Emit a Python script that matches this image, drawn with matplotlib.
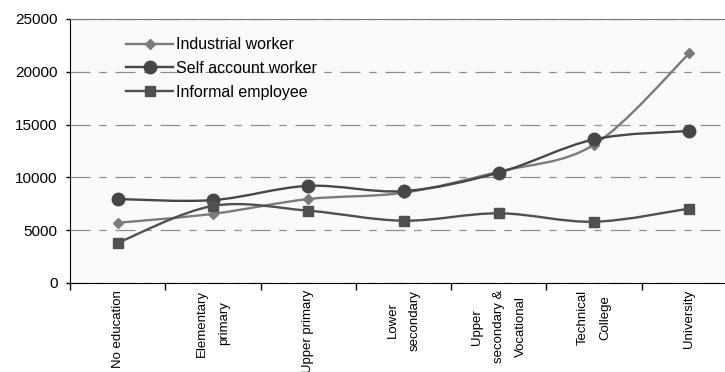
import matplotlib
matplotlib.use("Agg")
import matplotlib.pyplot as plt
from matplotlib.path import Path
from matplotlib.patches import PathPatch

plt.rcParams['font.family'] = ['Liberation Sans', 'DejaVu Sans']

# education levels and average values
categories = ["No education", "Elementary\nprimary", "Upper primary", "Lower\nsecondary",
              "Upper\nsecondary &\nVocational", "Technical\nCollege", "University"]
industrial = [5700, 6550, 7950, 8550, 10550, 13100, 21750]
self_account = [7950, 7850, 9200, 8700, 10450, 13600, 14400]
informal = [3800, 7300, 6850, 5900, 6600, 5800, 7050]

series = [
    ("Industrial worker", industrial, "#7b7b7b", "D", 5.5),
    ("Self account worker", self_account, "#474747", "o", 9),
    ("Informal employee", informal, "#505050", "s", 6.5),
]


def smooth_path(xs, ys):
    # Bezier segments like a spreadsheet "smoothed line"
    verts = [(xs[0], ys[0])]
    codes = [Path.MOVETO]
    n = len(xs)
    for i in range(n - 1):
        x0, y0 = (xs[i - 1], ys[i - 1]) if i > 0 else (xs[i], ys[i])
        x1, y1 = xs[i], ys[i]
        x2, y2 = xs[i + 1], ys[i + 1]
        x3, y3 = (xs[i + 2], ys[i + 2]) if i + 2 < n else (x2, y2)
        c1 = (x1 + (x2 - x0) / 6, y1 + (y2 - y0) / 6)
        c2 = (x2 - (x3 - x1) / 6, y2 - (y3 - y1) / 6)
        verts += [c1, c2, (x2, y2)]
        codes += [Path.CURVE4] * 3
    return Path(verts, codes)


fig = plt.figure(figsize=(7.25, 3.72), dpi=100)
ax = fig.add_axes([70 / 725, 1 - 283 / 372, 667 / 725, 264 / 372])
ax.set_facecolor("#fafafa")

x = list(range(len(categories)))
for name, vals, col, mk, ms in series:
    ax.add_patch(PathPatch(smooth_path(x, vals), fill=False, edgecolor=col, lw=1.7, zorder=3))
    ax.plot(x, vals, ls="none", marker=mk, ms=ms, color=col, zorder=4)
    ax.plot([], [], color=col, lw=1.7, marker=mk, ms=ms, label=name)

ax.set_xlim(-0.5, len(categories) - 0.5)
ax.set_ylim(0, 25000)
ax.set_yticks(range(0, 25001, 5000))
ax.yaxis.grid(True, color="#8c8c8c", lw=0.9, dashes=(16, 7, 6, 7))
ax.set_axisbelow(True)

ax.set_xticks([i - 0.5 for i in range(len(categories) + 1)])
ax.set_xticklabels([])
ax.set_xticks(x, minor=True)
ax.set_xticklabels(categories, minor=True, rotation=90, ha="center", va="top",
                   multialignment="center", fontsize=9.5, linespacing=2.1)
ax.tick_params(axis="x", which="major", length=5, width=1, direction="out")
ax.tick_params(axis="x", which="minor", length=0, pad=5)
ax.tick_params(axis="y", length=3, width=1, labelsize=11, pad=6)

ax.spines["left"].set_color("black")
ax.spines["bottom"].set_color("black")
ax.spines["top"].set_color("#777777")
ax.spines["right"].set_visible(False)

ax.legend(loc="upper left", bbox_to_anchor=(0.075, 0.955), frameon=False, fontsize=11.5,
          handlelength=2.9, handletextpad=0.2, labelspacing=0.55, borderaxespad=0)

fig.savefig("out.png", dpi=100)
